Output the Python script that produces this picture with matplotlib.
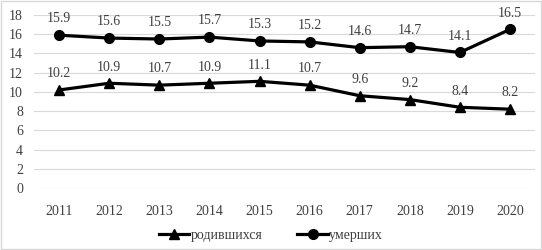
import matplotlib
matplotlib.use("Agg")
import matplotlib.pyplot as plt
from matplotlib.patches import Rectangle

years = ["2011", "2012", "2013", "2014", "2015", "2016", "2017", "2018", "2019", "2020"]
born = [10.2, 10.9, 10.7, 10.9, 11.1, 10.7, 9.6, 9.2, 8.4, 8.2]
died = [15.9, 15.6, 15.5, 15.7, 15.3, 15.2, 14.6, 14.7, 14.1, 16.5]
y_ticks = [0, 2, 4, 6, 8, 10, 12, 14, 16, 18]

plt.rcParams["font.family"] = ["Liberation Serif", "DejaVu Serif"]

fig = plt.figure(figsize=(5.42, 2.5), dpi=100)
ax = fig.add_axes([0.063, 0.248, 0.924, 0.692])

x = list(range(len(years)))
ax.plot(x, born, color="black", lw=2.3, marker="^", ms=7, label="родившихся")
ax.plot(x, died, color="black", lw=2.3, marker="o", ms=7, label="умерших")

for xi, v in zip(x, born):
    ax.annotate(f"{v:.1f}", (xi, v), xytext=(0, 7), textcoords="offset points",
                ha="center", va="bottom", fontsize=10, color="#404040")
for xi, v in zip(x, died):
    ax.annotate(f"{v:.1f}", (xi, v), xytext=(0, 7), textcoords="offset points",
                ha="center", va="bottom", fontsize=10, color="#404040")

ax.set_xlim(-0.5, len(years) - 0.5)
ax.set_ylim(0, 18)
ax.set_yticks(y_ticks)
ax.set_xticks(x)
ax.set_xticklabels(years)
ax.grid(axis="y", color="#d9d9d9", lw=0.8)
ax.set_axisbelow(True)
for s in ax.spines.values():
    s.set_visible(False)
ax.tick_params(length=0, labelsize=10, colors="#404040")
ax.tick_params(axis="x", pad=12)
ax.tick_params(axis="y", pad=8)

fig.legend(loc="center", bbox_to_anchor=(0.5, 0.06), ncol=2, frameon=False,
           fontsize=10, handlelength=2.2, handletextpad=0.1, columnspacing=2.5,
           labelcolor="#404040")

fig.patches.append(Rectangle((0.002, 0.004), 0.996, 0.992, transform=fig.transFigure,
                             fill=False, edgecolor="#d9d9d9", lw=1))

fig.savefig("out.png", dpi=100)
